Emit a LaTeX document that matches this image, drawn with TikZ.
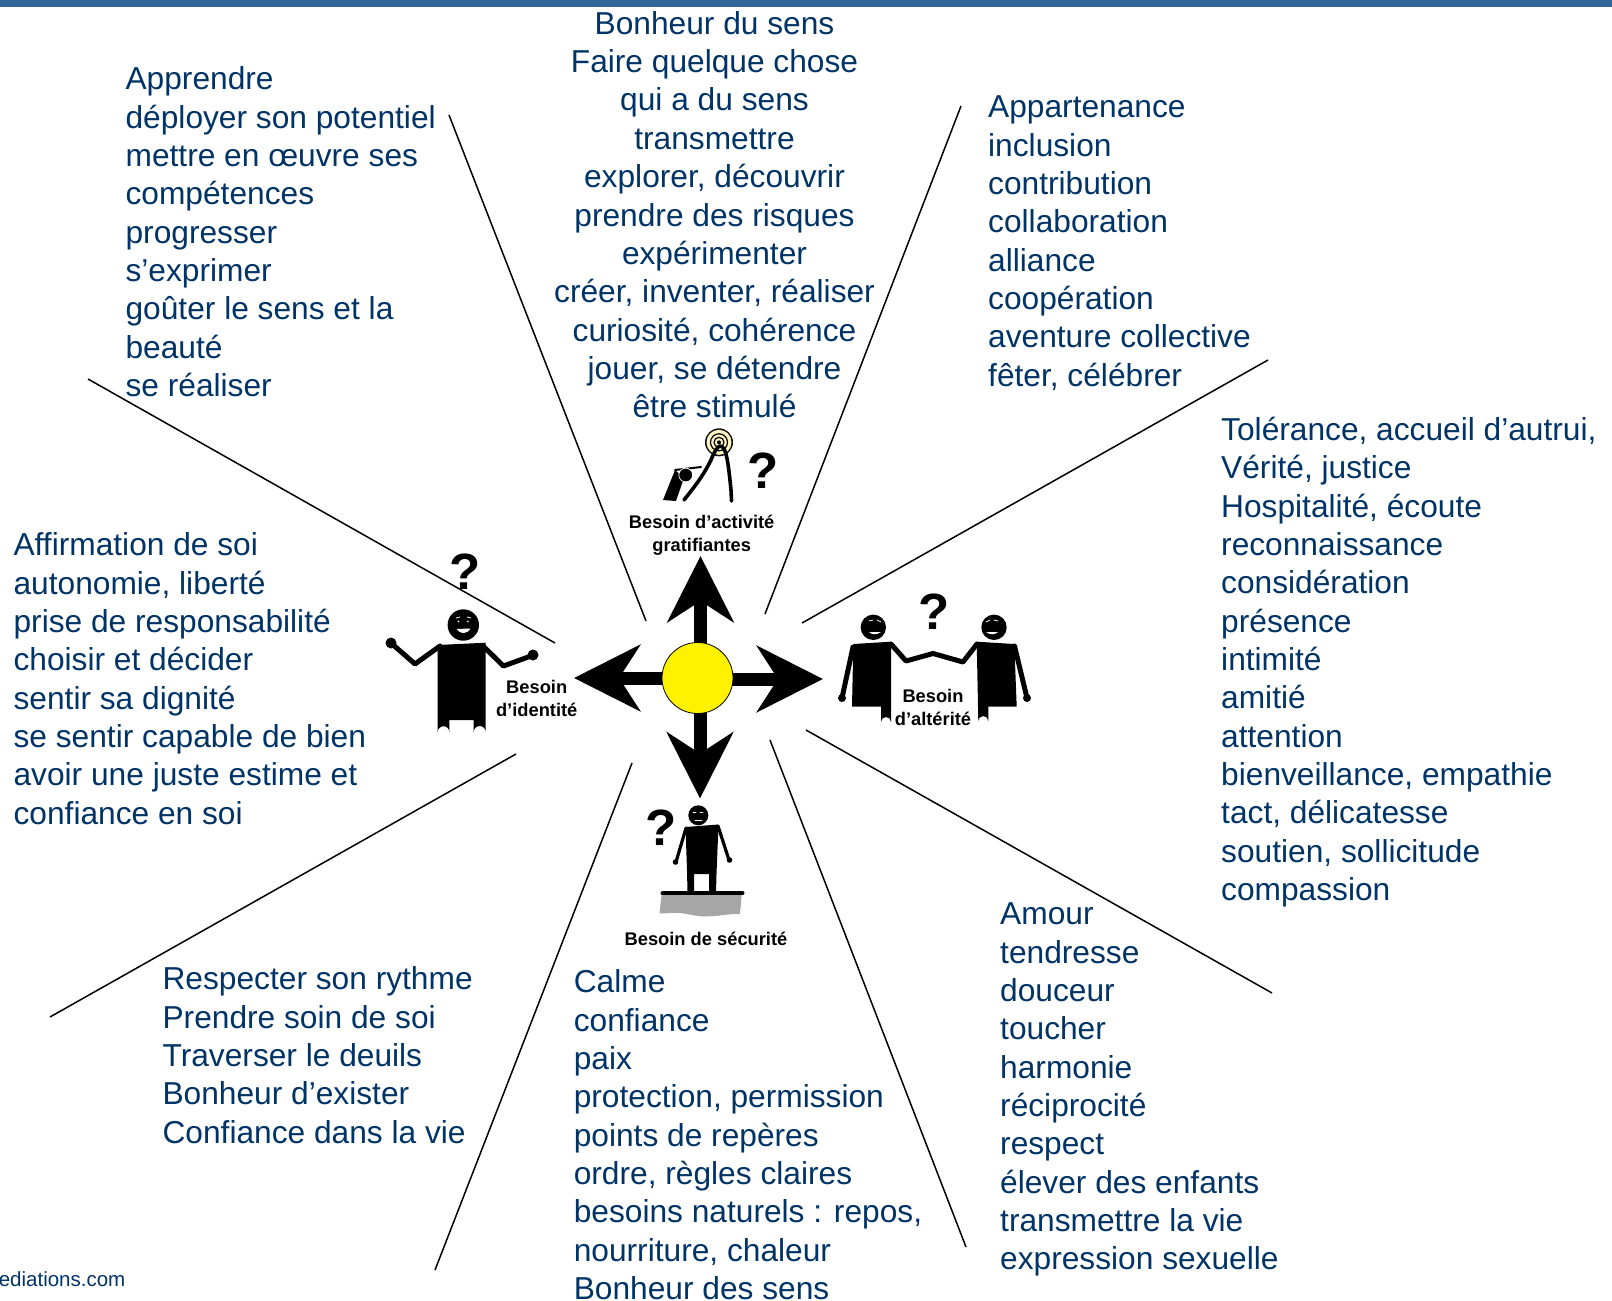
\documentclass[tikz,border=0pt]{standalone}
\usepackage{fontspec}
\setmainfont{Liberation Sans}
\usetikzlibrary{arrows.meta}
\definecolor{txtblue}{HTML}{003366}
\definecolor{barblue}{HTML}{336699}
\definecolor{ringyellow}{HTML}{FDF6C3}
\definecolor{wavegray}{HTML}{A6A6A6}
\tikzset{
  x=1pt,y=-1pt,
  blockl/.style={inner sep=0pt,anchor=north west,align=left,text=txtblue,font=\fontsize{31.7}{38.35}\selectfont},
  blockc/.style={inner sep=0pt,anchor=north,align=center,text=txtblue,font=\fontsize{31.7}{38.35}\selectfont},
  needlabel/.style={inner sep=0pt,anchor=center,align=center,text=black,font=\fontsize{18.3}{23.3}\selectfont\bfseries},
  qmark/.style={inner sep=0pt,anchor=center,text=black,font=\fontsize{51}{51}\selectfont\bfseries},
  spoke/.style={draw=black,line width=1.5pt},
  bigarrow/.style={draw=black,line width=13pt,-{Stealth[length=66pt,width=66pt,inset=21pt]}},
  limb/.style={draw=black,line width=5pt,line cap=round,line join=round},
  bodyfill/.style={fill=black,draw=black,line width=1pt,line join=round},
  facefine/.style={draw=white,line width=.8pt,line cap=round},
}
\begin{document}
\begin{tikzpicture}
\useasboundingbox (0,0) rectangle (1612,1301);
\fill[white] (0,0) rectangle (1612,1301);
\fill[barblue] (0,0) rectangle (1612,7);

% text blocks
\node[blockl] (apprendre) at (125.4,62.6) {\strut Apprendre\\déployer son potentiel\\mettre en œuvre ses\\compétences\\progresser\\s’exprimer\\goûter le sens et la\\beauté\\se réaliser};
\node[blockc] (bonheur) at (714.5,7.2) {\strut Bonheur du sens\\Faire quelque chose\\qui a du sens\\transmettre\\explorer, découvrir\\prendre des risques\\expérimenter\\créer, inventer, réaliser\\curiosité, cohérence\\jouer, se détendre\\être stimulé};
\node[blockl] (appart) at (988,90.6) {\strut Appartenance\\inclusion\\contribution\\collaboration\\alliance\\coopération\\aventure collective\\fêter, célébrer};
\node[blockl] (toler) at (1221,413.3) {\strut Tolérance, accueil d’autrui,\\Vérité, justice\\Hospitalité, écoute\\reconnaissance\\considération\\présence\\intimité\\amitié\\attention\\bienveillance, empathie\\tact, délicatesse\\soutien, sollicitude\\compassion};
\node[blockl] (amour) at (1000,897.6) {\strut Amour\\tendresse\\douceur\\toucher\\harmonie\\réciprocité\\respect\\élever des enfants\\transmettre la vie\\expression sexuelle};
\node[blockl] (calme) at (573.6,965.6) {\strut Calme\\confiance\\paix\\protection, permission\\points de repères\\ordre, règles claires\\besoins naturels : repos,\\nourriture, chaleur\\Bonheur des sens};
\node[blockl] (respect) at (162.4,962.6) {\strut Respecter son rythme\\Prendre soin de soi\\Traverser le deuils\\Bonheur d’exister\\Confiance dans la vie};
\node[blockl] (affirm) at (13.4,528.6) {\strut Affirmation de soi\\autonomie, liberté\\prise de responsabilité\\choisir et décider\\sentir sa dignité\\se sentir capable de bien\\avoir une juste estime et\\confiance en soi};
\node[inner sep=0pt,anchor=base east,text=txtblue,font=\fontsize{20.5}{24}\selectfont] (site) at (125.5,1286) {ediations.com};

% spokes
\coordinate (s1a) at (449,115);  \coordinate (s1b) at (646,621);
\coordinate (s2a) at (961,106);  \coordinate (s2b) at (765,614);
\coordinate (s3a) at (1268,360); \coordinate (s3b) at (802,623);
\coordinate (s4a) at (1272,993); \coordinate (s4b) at (806,730);
\coordinate (s5a) at (966,1247); \coordinate (s5b) at (770,740);
\coordinate (s6a) at (435,1270); \coordinate (s6b) at (632,763);
\coordinate (s7a) at (50,1017);  \coordinate (s7b) at (516,754);
\coordinate (s8a) at (88,379);   \coordinate (s8b) at (555,643);
\foreach \i in {1,...,8} {\draw[spoke] (s\i a) -- (s\i b);}

% arrows
\coordinate (hubc) at (697.5,678);
\coordinate (tipU) at (700.5,556);
\coordinate (tipR) at (823,679);
\coordinate (tipL) at (574,678);
\coordinate (tipD) at (700,798.5);
\draw[bigarrow] (hubc -| tipU) -- (tipU);
\draw[bigarrow] (hubc |- tipR) -- (tipR);
\draw[bigarrow] (hubc |- tipL) -- (tipL);
\draw[bigarrow] (hubc -| tipD) -- (tipD);
\node[circle,fill=yellow,draw=black,line width=.8pt,minimum size=71pt,inner sep=0pt] (hub) at (hubc) {};

% labels and question marks
\node[needlabel] (lact) at (701.7,535.5) {Besoin d’activité\\gratifiantes};
\node[needlabel] (lid) at (536.7,698.5) {Besoin\\d’identité};
\node[needlabel] (lalt) at (933,707.5) {Besoin\\d’altérité};
\node[needlabel] (lsec) at (706,938.5) {Besoin de sécurité};
\node[qmark] (qact) at (762.7,470.7) {?};
\node[qmark] (qid) at (465,572) {?};
\node[qmark] (qalt) at (934.5,612) {?};
\node[qmark] (qsec) at (660.7,827.5) {?};

% --- identity figure
\fill[black] (437.7,645) -- (485.7,642.7) -- (485.7,732) arc (0:-180:6) -- (473.7,720) -- (449.3,720) -- (449.3,732) arc (0:-180:5.8) -- cycle;
\draw[limb] (440,646) -- (415,664) -- (391,643);
\draw[limb] (483,646) -- (503.5,666) -- (531,656);
\fill[black] (391,643) circle (5.5) (533,655) circle (5.5);
\fill[black] (463.3,625) circle (15.7);
\draw[facefine] (456,618) -- (460,617) (467,617) -- (471,618);
\fill[white!80!black] (458.5,621.5) circle (1.2) (468,621.5) circle (1.2);
\fill[white] (456.5,629) .. controls (460,634.5) and (467,634.5) .. (470.5,628.5) -- cycle;

% --- alterity figure
\fill[black] (853.3,644) -- (891,641.7) -- (891,722) arc (0:-180:5) -- (881,706.7) -- (852,706.7) -- cycle;
\draw[limb] (853,647) -- (842,698);
\fill[black] (842,698) circle (4);
\draw[limb] (891,644) -- (906,661) -- (933,653.5);
\fill[black] (873.3,627.3) circle (12.7);
\draw[facefine] (869,621) -- (873,620) (877,620) -- (881,622);
\fill[white] (869,632) .. controls (872,635) and (877,635) .. (881,632) -- cycle;
\fill[black] (976.7,641.7) -- (1014.3,644) -- (1016.7,706.7) -- (988.3,706.7) -- (988.3,721) arc (0:-180:5) -- cycle;
\draw[limb] (1014.5,646) -- (1027,698);
\fill[black] (1027,698) circle (4);
\draw[limb] (977,644) -- (963,662) -- (933,653.5);
\fill[black] (994,627.3) circle (12.7);
\draw[facefine] (986,622) -- (990,620) (994,620) -- (998,621);
\fill[white] (986,632) .. controls (990,635) and (995,635) .. (998,632) -- cycle;

% --- security figure
\fill[wavegray] (661.7,894) -- (741.7,894) -- (740,914) .. controls (725,914) and (722,916) .. (705,916.5) .. controls (690,916) and (685,912) .. (672,913) -- (659.5,913.5) -- cycle;
\fill[black] (685.5,827) -- (718.5,824.5) -- (716.5,874) -- (716,893) -- (709,893) -- (709,874) -- (694,874) -- (694,893) -- (687.5,893) -- (687,870) -- cycle;
\draw[line width=3.2pt,line cap=round] (686,828) -- (676,862);
\draw[line width=3.2pt,line cap=round] (718,826) -- (729,860);
\fill[black] (675.5,862) circle (2.8) (729.5,860) circle (2.8);
\fill[black] (698.3,815.3) circle (10);
\draw[facefine,line width=.6pt] (693,812.5) -- (696,812.5) (700,812.5) -- (703,812.5) (695,820.5) -- (702,820.5);
\draw[line width=4pt,line cap=round] (662.5,893.3) -- (742.5,893.3);

% --- activity figure
\fill[black!95] (719,442.3) circle (14);
\fill[ringyellow] (719,442.3) circle (12.5);
\draw[line width=1.2pt] (719,442.3) circle (8.5);
\draw[line width=1.2pt] (719,442.3) circle (5);
\fill[black] (719,442.3) circle (2);
\draw[line width=3.6pt,line join=round,line cap=round] (684,500) .. controls (700,480) and (705,472) .. (711,460) .. controls (714,452) and (718,446) .. (720,446) .. controls (726,446) and (728,460) .. (731,490) -- (731.5,501);
\fill[white] (714,453) circle (0);
\fill[black] (663,500) -- (675,470) -- (684,478) -- (676,501) -- cycle;
\draw[line width=2pt,line cap=round] (675,470) -- (701,467);
\fill[black] (685.7,475) circle (6.7);
\draw[white,line width=.7pt] (685.7,475) circle (6.9);
\end{tikzpicture}
\end{document}
